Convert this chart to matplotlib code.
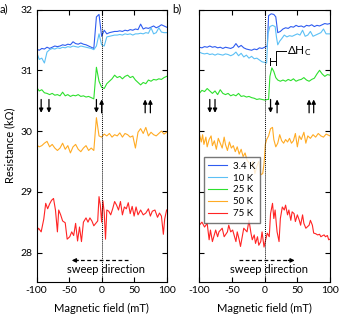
import matplotlib
matplotlib.use("Agg")
import matplotlib.pyplot as plt

plt.rcParams["font.family"] = ["Lato", "DejaVu Sans"]
plt.rcParams["axes.unicode_minus"] = False
plt.rcParams["mathtext.fontset"] = "custom"
plt.rcParams["mathtext.rm"] = "Lato"
plt.rcParams["mathtext.it"] = "Lato:italic"

temps = ["3.4 K", "10 K", "25 K", "50 K", "75 K"]
colors = ["#2f5cf0", "#5cc0f5", "#2ee02e", "#ffab24", "#ff2424"]

# ---- panel a (sweep down) ----
xa_grid = [-100, -96, -92, -88, -84, -80, -76, -72, -68, -64, -60, -56, -52, -48, -44, -40,
           -36, -32, -28, -24, -20, -16, -12, -8, -4, 0, 4, 8, 12, 16, 20, 24, 28, 32, 36,
           40, 44, 48, 52, 56, 60, 64, 68, 72, 76, 80, 84, 88, 92, 96, 100]
a_34 = [31.35, 31.33, 31.36, 31.35, 31.38, 31.36, 31.38, 31.40, 31.39, 31.40, 31.42, 31.41,
        31.43, 31.42, 31.47, 31.44, 31.43, 31.45, 31.43, 31.42, 31.40, 31.38, 31.36, 31.88,
        31.92, 31.56, 31.66, 31.60, 31.62, 31.63, 31.64, 31.64, 31.65, 31.64, 31.66, 31.65,
        31.67, 31.66, 31.68, 31.67, 31.76, 31.68, 31.70, 31.69, 31.71, 31.73, 31.70, 31.72,
        31.75, 31.73, 31.71]
a_10 = [31.30, 31.18, 31.20, 31.12, 31.30, 31.34, 31.36, 31.35, 31.37, 31.36, 31.38, 31.37,
        31.39, 31.38, 31.40, 31.39, 31.38, 31.40, 31.39, 31.38, 31.37, 31.36, 31.34, 31.40,
        31.60, 31.42, 31.40, 31.55, 31.56, 31.57, 31.58, 31.58, 31.59, 31.58, 31.60, 31.59,
        31.60, 31.58, 31.60, 31.60, 31.61, 31.60, 31.62, 31.61, 31.70, 31.60, 31.62, 31.70,
        31.63, 31.62, 31.62]
a_25 = [30.72, 30.66, 30.68, 30.63, 30.62, 30.60, 30.62, 30.59, 30.60, 30.58, 30.64, 30.58,
        30.60, 30.57, 30.59, 30.58, 30.60, 30.57, 30.58, 30.56, 30.57, 30.55, 30.53, 31.05,
        30.82, 30.72, 30.70, 30.78, 30.82, 30.86, 30.92, 30.88, 30.90, 30.86, 30.90, 30.92,
        30.88, 30.90, 30.84, 30.80, 30.76, 30.80, 30.78, 30.84, 30.82, 30.85, 30.84, 30.86,
        30.85, 30.88, 30.90]
a_50 = [29.77, 29.74, 29.76, 29.80, 29.83, 29.74, 29.78, 29.72, 29.68, 29.72, 29.80, 29.70,
        29.76, 29.64, 29.74, 29.78, 29.70, 29.66, 29.72, 29.76, 29.68, 29.72, 29.68, 30.22,
        29.92, 29.90, 29.95, 29.92, 29.96, 29.90, 29.94, 29.92, 29.97, 29.90, 29.96, 29.94,
        29.90, 29.92, 29.72, 29.98, 30.04, 29.96, 30.06, 29.92, 29.98, 29.94, 29.92, 29.96,
        30.00, 29.95, 29.98]
xa_75 = [-100, -97, -93, -89, -86, -83, -80, -77, -74, -71, -68, -66, -63, -60, -56, -53,
         -49, -46, -43, -40, -37, -34, -31, -28, -24, -21, -18, -15, -12, -9, -6, -4, -2,
         0, 2, 4, 6, 8, 11, 14, 17, 20, 23, 26, 29, 32, 35, 38, 41, 44, 47, 50, 53, 56, 60,
         64, 68, 72, 75, 78, 82, 86, 89, 92, 95, 97, 100]
a_75 = [28.34, 28.40, 28.34, 28.55, 28.81, 28.72, 28.80, 28.86, 28.89, 28.70, 28.34, 28.70,
        28.62, 28.52, 28.49, 28.22, 28.26, 28.34, 28.28, 28.48, 28.19, 28.42, 28.18, 28.50,
        28.57, 28.50, 28.57, 28.52, 28.44, 28.48, 28.52, 28.92, 28.78, 28.50, 28.85, 28.66,
        28.22, 28.70, 28.68, 28.62, 28.72, 28.84, 28.78, 28.70, 28.84, 28.62, 28.75, 28.72,
        28.82, 28.64, 28.76, 28.60, 28.75, 28.62, 28.70, 28.62, 28.65, 28.72, 28.60, 28.68,
        28.70, 28.58, 28.65, 28.60, 28.30, 28.55, 28.70]

# ---- panel b (sweep up) ----
xb_34 = [-100, -96, -92, -88, -84, -80, -76, -72, -68, -64, -60, -56, -52, -48, -44, -40,
         -36, -32, -28, -24, -20, -16, -12, -8, -4, 0, 4, 6, 10, 14, 17, 20, 24, 28, 32, 36,
         40, 44, 48, 52, 56, 60, 64, 68, 72, 76, 80, 84, 88, 92, 96, 100]
b_34 = [31.38, 31.37, 31.39, 31.38, 31.40, 31.38, 31.39, 31.37, 31.38, 31.36, 31.38, 31.37,
        31.36, 31.38, 31.44, 31.38, 31.41, 31.37, 31.35, 31.34, 31.33, 31.35, 31.34, 31.37,
        31.36, 31.38, 31.40, 31.90, 31.93, 31.92, 31.88, 31.62, 31.64, 31.68, 31.70, 31.69,
        31.72, 31.71, 31.74, 31.72, 31.73, 31.71, 31.74, 31.73, 31.75, 31.72, 31.74, 31.73,
        31.75, 31.77, 31.76, 31.77]
xb_10 = [-100, -96, -92, -88, -84, -80, -76, -72, -68, -64, -60, -56, -52, -48, -44, -40,
         -36, -32, -28, -24, -20, -16, -12, -8, -4, 0, 3, 5, 8, 12, 16, 18, 20, 23, 26, 30,
         34, 38, 42, 46, 50, 54, 58, 62, 66, 70, 74, 78, 82, 86, 90, 94, 100]
b_10 = [31.30, 31.28, 31.27, 31.28, 31.26, 31.27, 31.25, 31.27, 31.26, 31.25, 31.27, 31.26,
        31.24, 31.26, 31.30, 31.24, 31.28, 31.22, 31.25, 31.20, 31.23, 31.19, 31.20, 31.17,
        31.14, 31.13, 31.12, 31.60, 31.72, 31.74, 31.72, 31.55, 31.42, 31.48, 31.52, 31.58,
        31.55, 31.57, 31.56, 31.58, 31.60, 31.58, 31.66, 31.56, 31.58, 31.64, 31.56, 31.58,
        31.60, 31.62, 31.68, 31.60, 31.60]
xb_25 = [-100, -96, -92, -88, -84, -80, -76, -72, -68, -64, -60, -56, -52, -48, -44, -40,
         -36, -32, -28, -24, -20, -16, -12, -8, -4, 0, 4, 6, 8, 11, 14, 17, 20, 24, 28, 32,
         36, 40, 44, 48, 52, 56, 60, 64, 68, 72, 76, 80, 84, 88, 92, 96, 100]
b_25 = [30.62, 30.67, 30.65, 30.70, 30.66, 30.62, 30.66, 30.60, 30.68, 30.62, 30.60, 30.62,
        30.58, 30.60, 30.58, 30.62, 30.57, 30.58, 30.56, 30.57, 30.55, 30.54, 30.52, 30.53,
        30.52, 30.51, 30.52, 30.52, 30.90, 31.04, 30.98, 30.88, 30.84, 30.82, 30.84, 30.82,
        30.85, 30.83, 30.86, 30.82, 30.84, 30.85, 30.88, 30.84, 30.82, 30.85, 30.87, 30.94,
        31.00, 30.94, 30.90, 30.93, 30.92]
xb_50 = [-100, -97, -95, -93, -90, -88, -85, -82, -80, -77, -74, -71, -68, -65, -62, -60,
         -57, -54, -51, -48, -45, -42, -39, -36, -33, -30, -27, -24, -21, -18, -15, -12, -9,
         -6, -3, -1, 1, 3, 6, 9, 12, 14, 17, 20, 23, 26, 29, 32, 35, 38, 41, 44, 47, 50, 53,
         56, 60, 63, 66, 70, 74, 78, 82, 86, 90, 94, 100]
b_50 = [29.96, 29.82, 29.94, 29.78, 29.90, 29.74, 29.86, 29.92, 29.76, 29.84, 29.70, 29.88,
        29.80, 29.72, 29.90, 29.78, 29.68, 29.82, 29.72, 29.76, 29.66, 29.74, 29.62, 29.70,
        29.58, 29.64, 29.52, 29.48, 29.42, 29.50, 29.30, 29.42, 29.50, 29.28, 29.30, 29.46,
        29.78, 29.86, 29.92, 30.04, 30.06, 29.86, 29.74, 29.80, 29.94, 29.84, 29.80, 29.86,
        29.82, 29.88, 29.80, 29.84, 29.96, 29.74, 29.92, 29.86, 29.98, 29.80, 29.92, 29.88,
        29.94, 29.90, 29.96, 29.92, 29.90, 29.95, 29.92]
xb_75 = [-100, -96, -92, -88, -85, -83, -80, -75, -72, -70, -65, -62, -57, -55, -52, -49,
         -44, -42, -39, -37, -32, -27, -24, -21, -19, -16, -14, -11, -9, -6, -4, -1, 1.5, 4,
         7, 9, 12, 14, 16, 18, 19, 22, 24, 27, 30, 32, 35, 37, 40, 42, 45, 47, 50, 53, 55,
         58, 60, 63, 68, 70, 73, 75, 78, 81, 84, 86, 89, 91, 93, 96, 98, 100]
b_75 = [28.45, 28.50, 28.42, 28.48, 28.21, 28.37, 28.18, 28.37, 28.26, 28.34, 28.40, 28.26,
        28.34, 28.45, 28.34, 28.37, 28.18, 28.34, 28.21, 28.10, 28.40, 28.34, 28.53, 28.32,
        28.21, 28.29, 28.15, 28.26, 28.12, 28.18, 28.34, 28.09, 28.21, 28.32, 28.26, 28.64,
        28.81, 28.56, 28.70, 28.45, 28.34, 28.18, 28.56, 28.75, 28.70, 28.78, 28.62, 28.70,
        28.53, 28.67, 28.64, 28.51, 28.62, 28.53, 28.45, 28.62, 28.48, 28.40, 28.45, 28.53,
        28.45, 28.32, 28.31, 28.29, 28.30, 28.26, 28.28, 28.29, 28.26, 28.28, 28.21, 28.22]

# arrow glyph annotations: x position, direction (+1 up, -1 down)
arrows_a = [(-93, -1), (-81, -1), (-8, -1), (0, 1), (67, 1), (75, 1)]
arrows_b = [(-84, -1), (-76, -1), (9, -1), (19, 1), (68, 1), (75, 1)]
arrow_y = (30.3, 30.52)

# delta Hc bracket (panel b)
dhc_x = (8, 18)
dhc_y = 31.15

fig = plt.figure(figsize=(3.39, 3.19), dpi=100)
ax_a = fig.add_axes([0.108, 0.117, 0.3835, 0.853])
ax_b = fig.add_axes([0.588, 0.117, 0.3855, 0.853])

panels = [
    (ax_a, [(xa_grid, a_34), (xa_grid, a_10), (xa_grid, a_25), (xa_grid, a_50), (xa_75, a_75)],
     arrows_a, -1),
    (ax_b, [(xb_34, b_34), (xb_10, b_10), (xb_25, b_25), (xb_50, b_50), (xb_75, b_75)],
     arrows_b, 1),
]

for ax, curves, arrows, sweep in panels:
    for (x, y), c, t in zip(curves, colors, temps):
        ax.plot(x, y, color=c, lw=0.8, label=t)
    ax.axvline(0, color="k", ls=(0, (1, 1)), lw=0.7, zorder=5)
    ax.set_xlim(-100, 100)
    ax.set_ylim(27.52, 32)
    ax.set_xticks([-100, -50, 0, 50, 100])
    ax.set_yticks([28, 29, 30, 31, 32])
    ax.tick_params(direction="in", top=True, right=True, length=3.5, width=0.8,
                   labelsize=7.5, pad=3)
    for s in ax.spines.values():
        s.set_linewidth(0.8)
    ax.set_xlabel("Magnetic field (mT)", fontsize=8, labelpad=6)

    for xp, d in arrows:
        y0, y1 = arrow_y if d > 0 else arrow_y[::-1]
        ax.annotate("", xy=(xp, y1), xytext=(xp, y0),
                    arrowprops=dict(arrowstyle="-|>", lw=0.9, color="k",
                                    mutation_scale=6, shrinkA=0, shrinkB=0))

    # sweep direction
    if sweep < 0:
        ax.plot([40, -38], [27.87, 27.87], color="k", lw=0.9, ls=(0, (3, 2)))
        ax.annotate("", xy=(-46, 27.87), xytext=(-36, 27.87),
                    arrowprops=dict(arrowstyle="-|>", lw=0.9, color="k",
                                    mutation_scale=6, shrinkA=0, shrinkB=0))
    else:
        ax.plot([-40, 38], [27.87, 27.87], color="k", lw=0.9, ls=(0, (3, 2)))
        ax.annotate("", xy=(46, 27.87), xytext=(36, 27.87),
                    arrowprops=dict(arrowstyle="-|>", lw=0.9, color="k",
                                    mutation_scale=6, shrinkA=0, shrinkB=0))
    ax.text(7, 27.72, "sweep direction", ha="center", va="center", fontsize=8)

ax_a.set_ylabel("Resistance (k\u03a9)", fontsize=8, labelpad=4)
ax_b.tick_params(labelleft=False)

# delta Hc marker
ax_b.plot(dhc_x, [dhc_y, dhc_y], color="k", lw=0.7)
for xv in dhc_x:
    ax_b.plot([xv, xv], [dhc_y - 0.06, dhc_y + 0.06], color="k", lw=0.7)
ax_b.plot([dhc_x[1], dhc_x[1], 33], [dhc_y + 0.06, 31.31, 31.31], color="k", lw=0.7)
ax_b.text(34, 31.31, "\u0394H$_{\\mathrm{C}}$", fontsize=8.5, va="center", ha="left")

leg = ax_b.legend(loc="upper left", bbox_to_anchor=(-0.005, 0.475), fontsize=7,
                  frameon=True, fancybox=False, handlelength=2.0, labelspacing=0.3,
                  borderpad=0.45, handletextpad=0.6)
leg.get_frame().set_edgecolor("#555555")
leg.get_frame().set_linewidth(1.0)

fig.text(0.0, 0.972, "a)", fontsize=8, va="center", ha="left")
fig.text(0.508, 0.972, "b)", fontsize=8, va="center", ha="left")

fig.savefig("out.png", dpi=100)
